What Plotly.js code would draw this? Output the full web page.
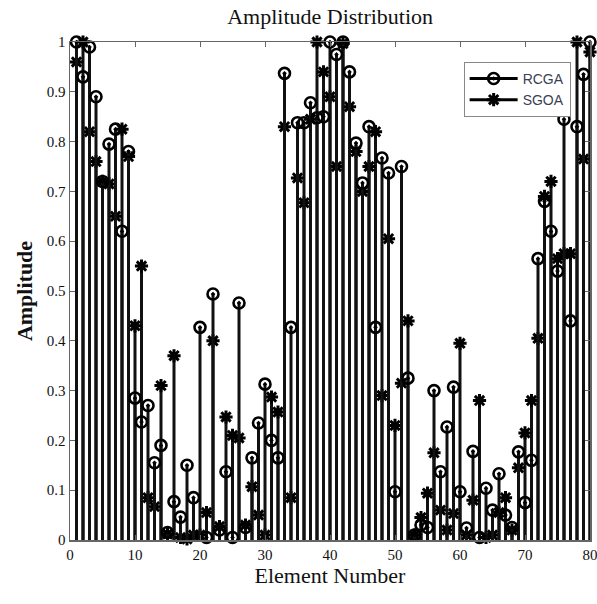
<!DOCTYPE html>
<html>
<head>
<meta charset="utf-8">
<script src="https://cdn.plot.ly/plotly-3.0.1.min.js"></script>
<style>html,body{margin:0;padding:0;background:#fff;}#chart{width:597px;height:604px;}</style>
</head>
<body>
<div id="chart"></div>
<script>
const elements = Array.from({length: 80}, (_, i) => i + 1);
const rcga = [1.0,0.93,0.99,0.89,0.72,0.795,0.825,0.62,0.78,0.285,
  0.237,0.27,0.155,0.19,0.015,0.077,0.046,0.15,0.085,0.427,
  0.005,0.494,0.02,0.137,0.005,0.476,0.025,0.165,0.235,0.313,
  0.2,0.165,0.937,0.427,0.838,0.838,0.878,0.848,0.85,1.0,
  0.975,1.0,0.94,0.797,0.717,0.83,0.427,0.767,0.737,0.097,
  0.75,0.325,0.01,0.03,0.025,0.30,0.137,0.227,0.307,0.097,
  0.024,0.178,0.005,0.104,0.06,0.133,0.05,0.025,0.177,0.075,
  0.16,0.565,0.68,0.62,0.54,0.845,0.44,0.83,0.935,1.0];
const sgoa = [0.96,1.0,0.82,0.76,0.72,0.715,0.65,0.825,0.77,0.43,
  0.55,0.085,0.067,0.31,0.012,0.37,0.005,0.002,0.01,0.01,
  0.055,0.40,0.027,0.247,0.21,0.205,0.03,0.107,0.05,0.01,
  0.287,0.257,0.83,0.085,0.727,0.677,0.845,1.0,0.94,0.89,
  0.75,0.997,0.87,0.78,0.70,0.75,0.82,0.29,0.605,0.23,
  0.315,0.44,0.01,0.045,0.094,0.175,0.06,0.02,0.053,0.395,
  0.01,0.08,0.28,0.005,0.01,0.055,0.085,0.02,0.145,0.215,
  0.28,0.405,0.69,0.72,0.565,0.575,0.575,1.0,0.765,0.98];
const seriesNames = ['RCGA', 'SGOA'];
const xTicks = [0,10,20,30,40,50,60,70,80];
const yTicks = [0,0.1,0.2,0.3,0.4,0.5,0.6,0.7,0.8,0.9,1];

const stemColor = '#111';
function stemTrace(vals, symbol, size, lw) {
  return {
    type: 'scatter', mode: 'markers', x: elements, y: vals, showlegend: false,
    cliponaxis: false,
    marker: {symbol: symbol, size: size, color: '#000', line: {color: '#000', width: lw}},
    error_y: {type: 'data', symmetric: false, array: vals.map(() => 0), arrayminus: vals,
      width: 0, thickness: 3, color: stemColor}
  };
}
function legendTrace(name, symbol, size, lw) {
  return {type: 'scatter', mode: 'lines+markers', x: [null], y: [null], name: name,
    line: {color: '#000', width: 3},
    marker: {symbol: symbol, size: size, color: '#000', line: {color: '#000', width: lw}}};
}
const data = [
  stemTrace(sgoa, 'asterisk-open', 11, 3),
  stemTrace(rcga, 'circle-open-dot', 11, 2.6),
  legendTrace(seriesNames[0], 'circle-open-dot', 11, 2.6),
  legendTrace(seriesNames[1], 'asterisk-open', 11, 3)
];
const serif = 'Liberation Serif, Times New Roman, serif';
const layout = {
  width: 597, height: 604,
  margin: {l: 70, r: 7, t: 42, b: 64},
  paper_bgcolor: '#fff', plot_bgcolor: '#fff',
  title: {text: 'Amplitude Distribution', font: {family: serif, size: 22, color: '#111'}, x: 0.553, xanchor: 'center', y: 0.985, yanchor: 'top'},
  xaxis: {range: [0, 80], tickvals: xTicks, ticktext: xTicks.map(String), ticks: 'inside', ticklen: 5,
    ticklabeloverflow: 'allow',
    showline: true, mirror: 'ticks', linecolor: '#666', linewidth: 1.5, tickcolor: '#666', showgrid: false, zeroline: false,
    tickfont: {family: serif, size: 15, color: '#111'},
    title: {text: 'Element Number', font: {family: serif, size: 22, color: '#111'}, standoff: 6}},
  yaxis: {range: [0, 1], tickvals: yTicks, ticktext: yTicks.map(String), ticks: 'inside', ticklen: 5,
    showline: true, mirror: 'ticks', linecolor: '#666', linewidth: 1.5, tickcolor: '#666', showgrid: false, zeroline: false,
    tickfont: {family: serif, size: 15, color: '#111'},
    title: {text: '<b>Amplitude</b>', font: {family: serif, size: 22, color: '#111'}, standoff: 8}},
  legend: {x: 0.757, y: 0.96, xanchor: 'left', yanchor: 'top', bgcolor: '#fff', bordercolor: '#888', borderwidth: 1,
    font: {family: 'Liberation Sans Narrow, Liberation Sans, sans-serif', size: 14, color: '#3a3f55'}, tracegroupgap: 0, itemwidth: 48},
  showlegend: true
};
Plotly.newPlot('chart', data, layout, {displayModeBar: false, staticPlot: true});
</script>
</body>
</html>
